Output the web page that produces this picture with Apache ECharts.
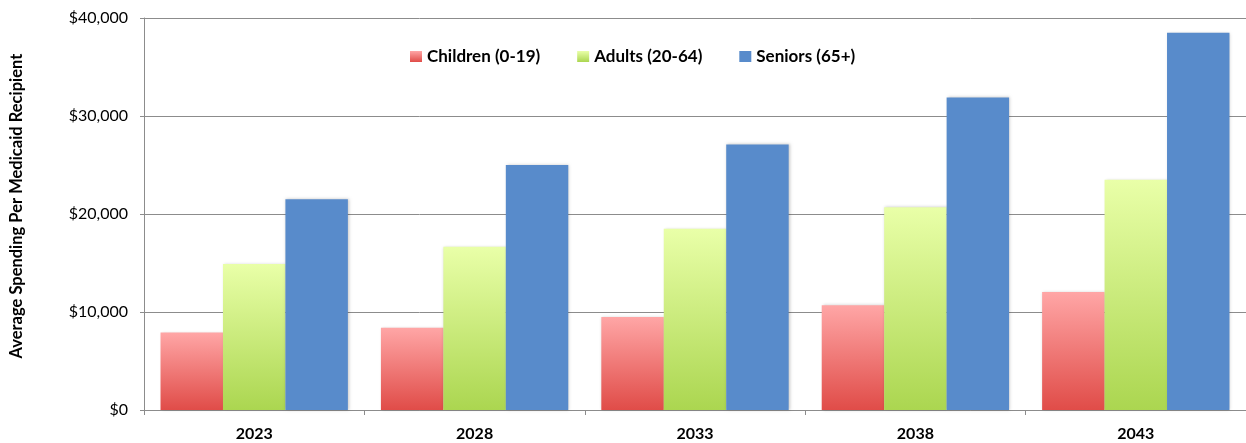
<!DOCTYPE html>
<html>
<head>
<meta charset="utf-8">
<title>Average Spending Per Medicaid Recipient</title>
<script src="https://cdn.jsdelivr.net/npm/echarts@6/dist/echarts.min.js"></script>
<style>
  html, body { margin: 0; padding: 0; background: #ffffff; }
  #chart { width: 1246px; height: 443px; }
</style>
</head>
<body>
<div id="chart"></div>
<script>
// Projected average Medicaid spending per recipient, by age group
const years = ['2023', '2028', '2033', '2038', '2043'];
const children = [7900, 8400, 9500, 10700, 12050];
const adults = [14900, 16650, 18500, 20700, 23500];
const seniors = [21500, 25000, 27100, 31900, 38500];
const yTicks = { min: 0, max: 40000, interval: 10000 };

const FONT = 'Lato, "DejaVu Sans", sans-serif';

function vGrad(top, bottom) {
  return {
    type: 'linear', x: 0, y: 0, x2: 0, y2: 1,
    colorStops: [{ offset: 0, color: top }, { offset: 1, color: bottom }]
  };
}

const barShadow = {
  shadowBlur: 3,
  shadowColor: 'rgba(0,0,0,0.22)',
  shadowOffsetX: 1,
  shadowOffsetY: 0
};

const chart = echarts.init(document.getElementById('chart'), null, { renderer: 'canvas' });

chart.setOption({
  animation: false,
  backgroundColor: '#ffffff',
  textStyle: { fontFamily: FONT },
  grid: { left: 144, right: 0, top: 18, bottom: 33, containLabel: false },
  legend: {
    left: 405,
    top: 43,
    itemWidth: 12,
    itemHeight: 11,
    itemGap: 37,
    icon: 'rect',
    textStyle: { fontFamily: FONT, fontWeight: 'bold', fontSize: 17, color: '#000000' },
    data: ['Children (0-19)', 'Adults (20-64)', 'Seniors (65+)']
  },
  xAxis: {
    type: 'category',
    data: years,
    axisLine: { lineStyle: { color: '#8c8c8c', width: 1 } },
    axisTick: { show: true, length: 5, lineStyle: { color: '#8c8c8c' } },
    axisLabel: {
      margin: 16,
      fontFamily: FONT, fontWeight: 'bold', fontSize: 16, color: '#000000'
    },
    splitLine: { show: false }
  },
  yAxis: {
    type: 'value',
    min: yTicks.min,
    max: yTicks.max,
    interval: yTicks.interval,
    axisLine: { show: true, lineStyle: { color: '#8c8c8c', width: 1 } },
    axisTick: { show: true, length: 4, lineStyle: { color: '#8c8c8c' } },
    axisLabel: {
      margin: 16,
      fontFamily: FONT, fontSize: 16, color: '#000000',
      formatter: v => '$' + v.toLocaleString('en-US')
    },
    splitLine: { show: true, lineStyle: { color: '#8c8c8c', width: 1 } }
  },
  graphic: [{
    type: 'text',
    x: 17,
    y: 206,
    rotation: Math.PI / 2,
    style: {
      text: 'Average Spending Per Medicaid Recipient',
      fontFamily: FONT, fontWeight: 'bold', fontSize: 16.5,
      fill: '#000000', align: 'center', verticalAlign: 'middle'
    }
  }],
  series: [
    {
      name: 'Children (0-19)',
      type: 'bar',
      data: children,
      barGap: '0%',
      barCategoryGap: '15%',
      itemStyle: Object.assign({ color: vGrad('#ffa6a6', '#e04c48') }, barShadow)
    },
    {
      name: 'Adults (20-64)',
      type: 'bar',
      data: adults,
      barGap: '0%',
      barCategoryGap: '15%',
      itemStyle: Object.assign({ color: vGrad('#e9ffa8', '#abd650') }, barShadow)
    },
    {
      name: 'Seniors (65+)',
      type: 'bar',
      data: seniors,
      barGap: '0%',
      barCategoryGap: '15%',
      itemStyle: Object.assign({ color: '#588bcb' }, barShadow)
    }
  ]
});
</script>
</body>
</html>
